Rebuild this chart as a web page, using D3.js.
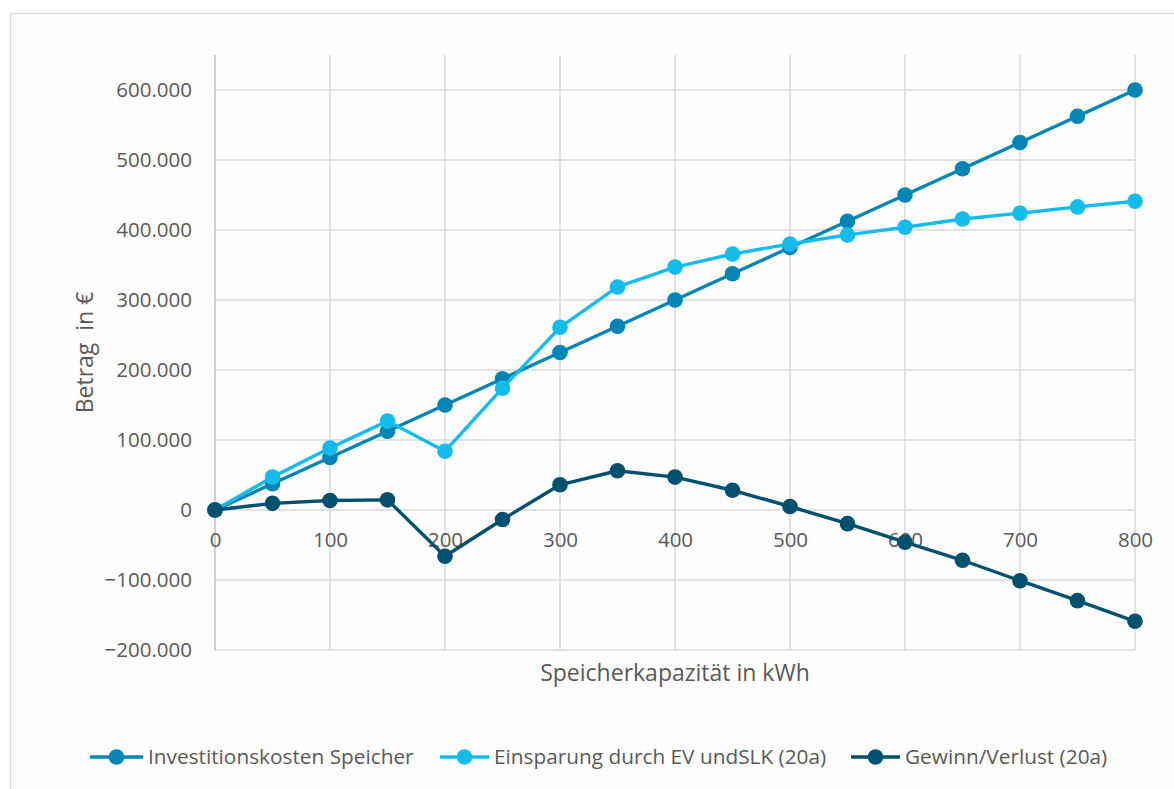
<!DOCTYPE html>
<html>
<head>
<meta charset="utf-8">
<script src="https://cdn.jsdelivr.net/npm/d3@7"></script>
<style>
  html, body { margin: 0; padding: 0; background: #ffffff; }
  svg { display: block; }
  text { font-family: "Open Sans", sans-serif; fill: #595959; }
</style>
</head>
<body>
<svg id="chart" width="1174" height="789"></svg>
<script>
// Storage capacity in kWh
const capacities = [0, 50, 100, 150, 200, 250, 300, 350, 400, 450, 500, 550, 600, 650, 700, 750, 800];

// Investment cost of the storage system (EUR)
const investitionskosten = [0, 37500, 75000, 112500, 150000, 187500, 225000, 262500, 300000,
  337500, 375000, 412500, 450000, 487500, 525000, 562500, 600000];

// Savings from self-consumption and peak-load capping over 20 years (EUR)
const einsparung = [0, 47000, 88600, 127000, 84000, 174000, 261000, 318600, 347000,
  365700, 380000, 393000, 404000, 415700, 424000, 433000, 441000];

// Profit / loss over 20 years (EUR)
const gewinnVerlust = [0, 9500, 13600, 14500, -66000, -13500, 36000, 56100, 47000,
  28200, 5000, -19500, -46000, -71800, -101000, -129500, -159000];

const xTicks = [0, 100, 200, 300, 400, 500, 600, 700, 800];
const yTicks = [-200000, -100000, 0, 100000, 200000, 300000, 400000, 500000, 600000];

const seriesNames = ["Investitionskosten Speicher", "Einsparung durch EV undSLK (20a)", "Gewinn/Verlust (20a)"];
const seriesColors = ["#0085b4", "#14bbeb", "#00506e"];
const seriesValues = [investitionskosten, einsparung, gewinnVerlust];

const svg = d3.select("#chart");

// outer chart frame
svg.append("rect")
  .attr("x", 10.5).attr("y", 13.5)
  .attr("width", 1200).attr("height", 800)
  .attr("fill", "#fefefe")
  .attr("stroke", "#d9d9d9").attr("stroke-width", 1.3);

const x = d3.scaleLinear().domain([0, 800]).range([215, 1135]);
const y = d3.scaleLinear().domain([-200000, 650000]).range([650, 55]);

const fmt = v => v === 0 ? "0" : d3.format(",")(v).replace(/,/g, ".");

// horizontal gridlines
svg.append("g")
  .selectAll("line")
  .data(yTicks)
  .join("line")
  .attr("x1", x(0)).attr("x2", x(800))
  .attr("y1", d => y(d)).attr("y2", d => y(d))
  .attr("stroke", "#d9d9d9").attr("stroke-width", 1.5);

// vertical gridlines
svg.append("g")
  .selectAll("line")
  .data(xTicks.slice(1))
  .join("line")
  .attr("x1", d => x(d)).attr("x2", d => x(d))
  .attr("y1", y(650000)).attr("y2", y(-200000))
  .attr("stroke", "#d9d9d9").attr("stroke-width", 1.5);

// value axis line
svg.append("line")
  .attr("x1", x(0)).attr("x2", x(0))
  .attr("y1", y(650000)).attr("y2", y(-200000))
  .attr("stroke", "#bfbfbf").attr("stroke-width", 1.5);

// y tick labels
const yAxis = d3.axisLeft(y).tickValues(yTicks).tickFormat(fmt).tickSize(0).tickPadding(23);
const gy = svg.append("g").attr("transform", `translate(${x(0)},0)`).call(yAxis);
gy.select(".domain").remove();
gy.selectAll("text")
  .attr("font-family", "Open Sans, sans-serif")
  .attr("font-size", 20.5)
  .attr("fill", "#595959");

// x tick labels sit next to the axis at value 0
const xAxis = d3.axisBottom(x).tickValues(xTicks).tickFormat(d3.format("d")).tickSize(0).tickPadding(22);
const gx = svg.append("g").attr("transform", `translate(0,${y(0)})`).call(xAxis);
gx.select(".domain").remove();
gx.selectAll("text")
  .attr("font-family", "Open Sans, sans-serif")
  .attr("font-size", 20.5)
  .attr("fill", "#595959");

// axis titles
svg.append("text")
  .attr("x", (x(0) + x(800)) / 2).attr("y", 681)
  .attr("text-anchor", "middle")
  .attr("font-size", 23)
  .text("Speicherkapazität in kWh");

svg.append("text")
  .attr("transform", `translate(93,${(y(650000) + y(-200000)) / 2}) rotate(-90)`)
  .attr("text-anchor", "middle")
  .attr("font-size", 23)
  .attr("xml:space", "preserve")
  .text("Betrag  in €");

// series lines and markers
const line = d3.line()
  .x((d, i) => x(capacities[i]))
  .y(d => y(d));

seriesValues.forEach((vals, s) => {
  const g = svg.append("g");
  g.append("path")
    .datum(vals)
    .attr("d", line)
    .attr("fill", "none")
    .attr("stroke", seriesColors[s])
    .attr("stroke-width", 3.4)
    .attr("stroke-linejoin", "round");
  g.selectAll("circle")
    .data(vals)
    .join("circle")
    .attr("cx", (d, i) => x(capacities[i]))
    .attr("cy", d => y(d))
    .attr("r", 7.8)
    .attr("fill", seriesColors[s]);
});

// legend
const legendItems = [
  { lx: 90, tx: 148 },
  { lx: 440, tx: 494 },
  { lx: 851, tx: 905 }
];
const legendY = 757;
const legend = svg.append("g");
legendItems.forEach((it, s) => {
  const g = legend.append("g");
  g.append("line")
    .attr("x1", it.lx).attr("x2", it.tx - 5)
    .attr("y1", legendY).attr("y2", legendY)
    .attr("stroke", seriesColors[s]).attr("stroke-width", 3.4);
  g.append("circle")
    .attr("cx", (it.lx + it.tx - 5) / 2).attr("cy", legendY)
    .attr("r", 7.8).attr("fill", seriesColors[s]);
  g.append("text")
    .attr("x", it.tx).attr("y", legendY)
    .attr("dy", "0.35em")
    .attr("font-size", 20.8)
    .text(seriesNames[s]);
});
</script>
</body>
</html>
